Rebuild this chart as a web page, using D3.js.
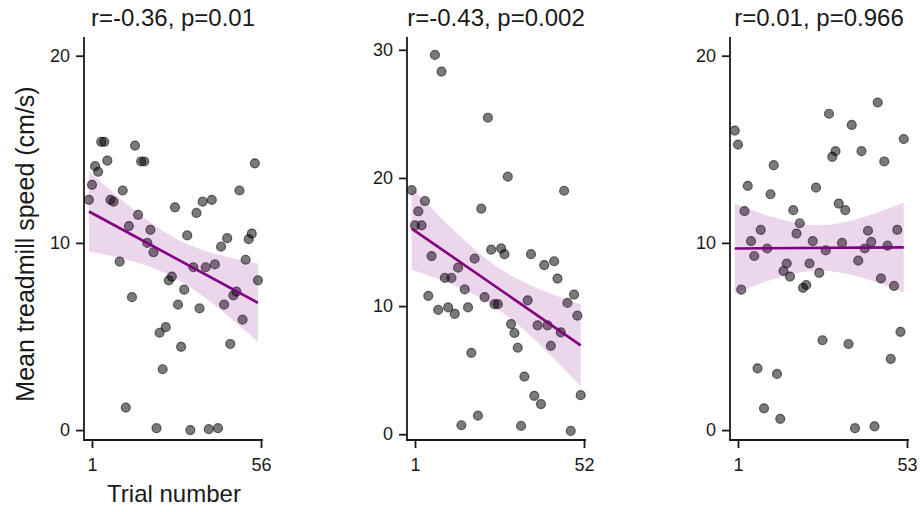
<!DOCTYPE html>
<html>
<head>
<meta charset="utf-8">
<script src="https://cdn.jsdelivr.net/npm/d3@7"></script>
<style>
  body { margin: 0; background: #fff; }
  text { font-family: "Liberation Sans", Arial, sans-serif; fill: #1a1a1a; }
</style>
</head>
<body>
<svg id="chart" width="920" height="512"></svg>
<script>
// mean treadmill speed per trial (index = trial - 1), null = not shown
var speed1 = [12.3, 13.1, 14.1, 13.8, 15.4, 15.4, 14.4, 12.3, 12.2, null,
    9.0, 12.8, 1.2, 10.9, 7.1, 15.2, 11.5, 14.35, 14.35, 10.0,
    10.7, 9.5, 0.1, 5.2, 3.25, 5.5, 8.0, 8.2, 11.9, 6.7,
    4.45, 7.5, 10.4, 0.0, 8.7, 11.6, 6.5, 12.2, 8.7, 0.05,
    12.3, 8.85, 0.1, 9.8, 6.7, 10.25, 4.6, 7.2, 7.4, 12.8,
    5.9, 9.1, 10.2, 10.5, 14.25, 8.0];
var speed2 = [19.05, 16.3, 17.4, 16.3, 18.2, 10.8, 13.9, 29.6, 9.7, 28.3,
    12.2, 9.9, 12.2, 9.4, 13.0, 0.7, 11.3, 9.9, 6.35, 13.7,
    1.45, 17.6, 10.7, 24.7, 14.4, 10.15, 10.15, 14.5, 14.05, 20.1,
    8.6, 7.9, 6.75, 0.65, 4.5, 10.45, 14.05, 3.0, 8.5, 2.35,
    13.2, 8.5, 6.9, 13.5, 12.15, 7.95, 19.0, 10.25, 0.26, 10.9,
    9.25, 3.05];
var speed3 = [16.0, 15.25, 7.5, 11.7, 13.05, 10.1, 9.3, 3.3, 10.7, 1.16,
    9.7, 12.6, 14.15, 3.0, 0.6, 8.5, 8.9, 8.2, 11.75, 10.5,
    11.05, 7.6, 7.75, 8.9, 10.1, 12.95, 8.4, 4.8, 9.6, 16.9,
    14.6, 14.9, 12.1, 10.0, 11.75, 4.6, 16.3, 0.1, 9.05, 14.9,
    9.7, 10.65, 10.05, 0.2, 17.5, 8.1, 14.35, 9.85, 3.8, 7.7,
    10.7, 5.25, 15.55];

var titles = ["r=-0.36, p=0.01", "r=-0.43, p=0.002", "r=0.01, p=0.966"];
var nTrials = [56, 52, 53];
var yTicks = [[0, 10, 20], [0, 10, 20, 30], [0, 10, 20]];
var yDomains = [[-0.53, 21.0], [-0.45, 31.0], [-0.53, 21.0]];

var svg = d3.select("#chart");
var top_ = 37, bottom = 440;
var lefts = [84, 407, 730];
var purple = "#800080";

// ordinary least squares + 95% confidence band for the mean
var fit = function(pts) {
    var n = pts.length;
    var mx = d3.mean(pts, function(d) { return d.x; });
    var my = d3.mean(pts, function(d) { return d.y; });
    var sxx = d3.sum(pts, function(d) { return (d.x - mx) * (d.x - mx); });
    var sxy = d3.sum(pts, function(d) { return (d.x - mx) * (d.y - my); });
    var b = sxy / sxx, a = my - b * mx;
    var sse = d3.sum(pts, function(d) { var r = d.y - (a + b * d.x); return r * r; });
    var s = Math.sqrt(sse / (n - 2));
    return {
        y: function(x) { return a + b * x; },
        se: function(x) { return 2.01 * s * Math.sqrt(1 / n + (x - mx) * (x - mx) / sxx); }
    };
};

[speed1, speed2, speed3].forEach(function(speeds, i) {
    var left = lefts[i];
    var n = nTrials[i];
    var pts = [];
    speeds.forEach(function(v, k) {
        if (v !== null) pts.push({ x: k, y: v });
    });

    var x = d3.scaleLinear().domain([1, n]).range([left + 8, left + 177]);
    var y = d3.scaleLinear().domain(yDomains[i]).range([bottom, top_]);

    var g = svg.append("g");

    // points
    g.selectAll("circle")
        .data(pts)
        .enter()
        .append("circle")
        .attr("cx", function(d) { return x(d.x); })
        .attr("cy", function(d) { return y(d.y); })
        .attr("r", 4.5)
        .attr("fill", "#000")
        .attr("fill-opacity", 0.52)
        .attr("stroke", "#000")
        .attr("stroke-opacity", 0.55)
        .attr("stroke-width", 1.2);

    // regression band + line
    var f = fit(pts);
    var x0 = d3.min(pts, function(d) { return d.x; });
    var x1 = d3.max(pts, function(d) { return d.x; });
    var grid = d3.range(0, 101).map(function(k) { return x0 + (x1 - x0) * k / 100; });

    g.append("path")
        .datum(grid)
        .attr("fill", purple)
        .attr("fill-opacity", 0.16)
        .attr("d", d3.area()
            .x(function(d) { return x(d); })
            .y0(function(d) { return y(f.y(d) - f.se(d)); })
            .y1(function(d) { return y(f.y(d) + f.se(d)); }));

    g.append("line")
        .attr("x1", x(x0)).attr("y1", y(f.y(x0)))
        .attr("x2", x(x1)).attr("y2", y(f.y(x1)))
        .attr("stroke", purple)
        .attr("stroke-width", 2.6);

    // axes
    var ya = g.append("g")
        .attr("transform", "translate(" + left + ",0)")
        .call(d3.axisLeft(y).tickValues(yTicks[i]).tickSize(8).tickPadding(6).tickSizeOuter(0));
    ya.select(".domain").remove();
    var xa = g.append("g")
        .attr("transform", "translate(0," + bottom + ")")
        .call(d3.axisBottom(x).tickValues([1, n]).tickFormat(d3.format("d")).tickSize(8).tickPadding(10).tickSizeOuter(0));
    xa.select(".domain").remove();
    g.selectAll(".tick line").attr("stroke", "#1a1a1a").attr("stroke-width", 1.8);
    g.selectAll(".tick text").style("font-size", "18px").style("font-family", "\"Liberation Sans\", Arial, sans-serif").attr("fill", "#1a1a1a");

    g.append("line")
        .attr("x1", left).attr("x2", left)
        .attr("y1", top_).attr("y2", bottom + 0.9)
        .attr("stroke", "#1a1a1a").attr("stroke-width", 1.8);
    g.append("line")
        .attr("x1", left - 0.9).attr("x2", left + 179)
        .attr("y1", bottom).attr("y2", bottom)
        .attr("stroke", "#1a1a1a").attr("stroke-width", 1.8);

    g.append("text")
        .attr("x", left + 89)
        .attr("y", 26)
        .attr("text-anchor", "middle")
        .style("font-size", "24px")
        .text(titles[i]);
});

svg.append("text")
    .attr("transform", "translate(34,244) rotate(-90)")
    .attr("text-anchor", "middle")
    .style("font-size", "25px")
    .text("Mean treadmill speed (cm/s)");

svg.append("text")
    .attr("x", 174)
    .attr("y", 502)
    .attr("text-anchor", "middle")
    .style("font-size", "24px")
    .text("Trial number");
</script>
</body>
</html>
